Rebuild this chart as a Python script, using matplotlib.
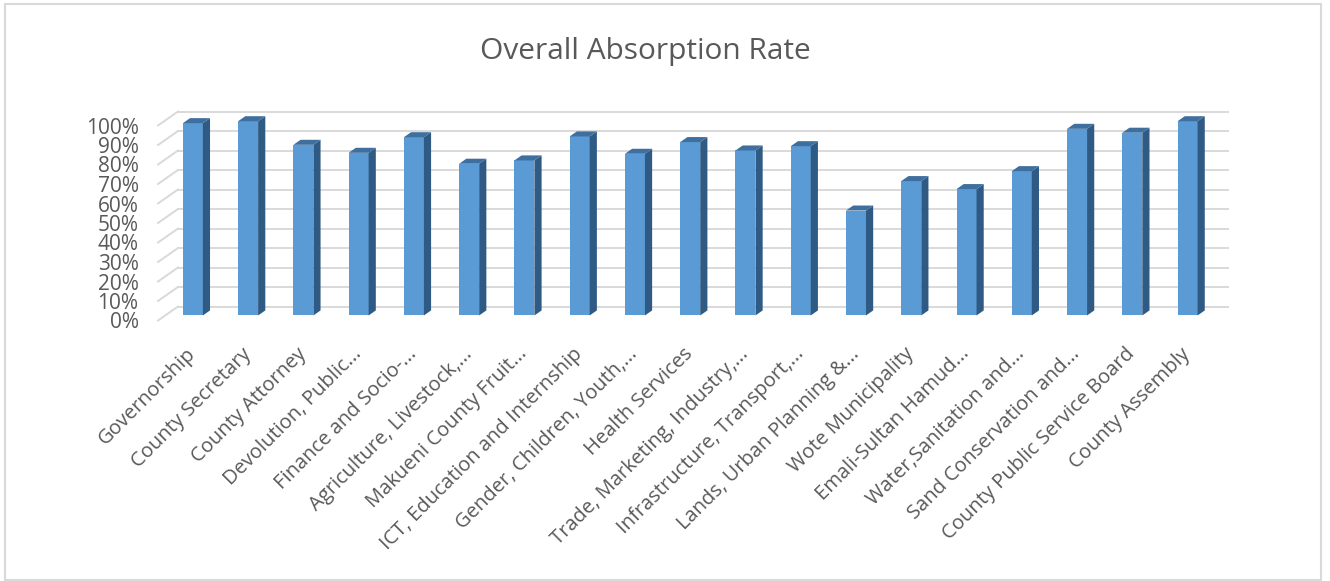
import matplotlib
matplotlib.use('Agg')
import matplotlib.pyplot as plt
from matplotlib.patches import Polygon, Rectangle
import numpy as np

plt.rcParams['font.family'] = ['Open Sans', 'DejaVu Sans']

departments = ['Governorship', 'County Secretary', 'County Attorney',
               'Devolution, Public...', 'Finance and Socio-...',
               'Agriculture, Livestock,...', 'Makueni County Fruit...',
               'ICT, Education and Internship', 'Gender, Children, Youth,...',
               'Health Services', 'Trade, Marketing, Industry,...',
               'Infrastructure, Transport,...', 'Lands, Urban Planning &...',
               'Wote Municipality', 'Emali-Sultan Hamud...',
               'Water,Sanitation and...', 'Sand Conservation and...',
               'County Public Service Board', 'County Assembly']
absorption = [98.6, 99.6, 87.5, 83.4, 91.4, 77.8, 79.5, 91.8, 82.9, 88.9,
              84.6, 86.8, 53.8, 68.9, 64.8, 74.0, 95.7, 93.7, 99.6]
pct_ticks = list(range(0, 101, 10))

TEXT = '#595959'
GRID = '#d9d9d9'
FRONT = '#5b9bd5'
SIDE = '#2f5a84'
TOP = '#3f6f9e'

W, H = 1330, 581
fig = plt.figure(figsize=(W / 100, H / 100), dpi=100)

# plot area in pixels (front plane)
left, right = 158, 1208
y0, y100 = 320.5, 125.5
ax = fig.add_axes([left / W, 1 - y0 / H, (right - left) / W, (y0 - y100) / H])
n = len(departments)
ax.set_xlim(-0.5, n - 0.5)
ax.set_ylim(0, 100)

# depth of the 3d box, in data units
px_x = (right - left) / n
px_y = (y0 - y100) / 100
DX = 20 / px_x
DY = 14 / px_y
f0, f1 = 0.36, 0.72
bw = 20 / px_x

# walls: back gridlines and left side diagonals
for v in pct_ticks:
    ax.plot([-0.5 + DX, n - 0.5 + DX], [v + DY, v + DY], color=GRID,
            lw=1.4, clip_on=False, zorder=1)
    ax.plot([-0.5, -0.5 + DX], [v, v + DY], color=GRID, lw=1.4,
            clip_on=False, zorder=1)

# 3d columns
ox, oy = f0 * DX, f0 * DY
ddx, ddy = (f1 - f0) * DX, (f1 - f0) * DY
for i, h in enumerate(absorption):
    xl = i - bw / 2 + ox
    xr = i + bw / 2 + ox
    b = oy
    t = oy + h
    ax.add_patch(Rectangle((xl, b), bw, h, facecolor=FRONT, edgecolor='none',
                           clip_on=False, zorder=3))
    ax.add_patch(Polygon([(xr, b), (xr, t), (xr + ddx, t + ddy), (xr + ddx, b + ddy)],
                         closed=True, facecolor=SIDE, edgecolor='none',
                         clip_on=False, zorder=3))
    ax.add_patch(Polygon([(xl, t), (xr, t), (xr + ddx, t + ddy), (xl + ddx, t + ddy)],
                         closed=True, facecolor=TOP, edgecolor='none',
                         clip_on=False, zorder=3))

for s in ax.spines.values():
    s.set_visible(False)
ax.set_facecolor('none')

ax.set_yticks(pct_ticks)
ax.set_yticklabels([f'{v}%' for v in pct_ticks])
ax.tick_params(axis='y', length=0, pad=14, labelsize=15, labelcolor=TEXT)

ax.set_xticks(np.arange(n) + ox)
ax.set_xticklabels(departments, rotation=45, ha='right', va='center',
                   rotation_mode='anchor')
ax.tick_params(axis='x', length=0, pad=22, labelsize=14.5, labelcolor=TEXT)

fig.text(645 / W, 1 - 52 / H, 'Overall Absorption Rate', ha='center',
         va='center', fontsize=21.5, color=TEXT)

# chart area border
fig.patches.append(Rectangle((5 / W, 1 - 580 / H), 1316 / W, 576 / H,
                             transform=fig.transFigure, fill=False,
                             edgecolor=GRID, lw=1.5))

fig.savefig('out.png', dpi=100, facecolor='white')
